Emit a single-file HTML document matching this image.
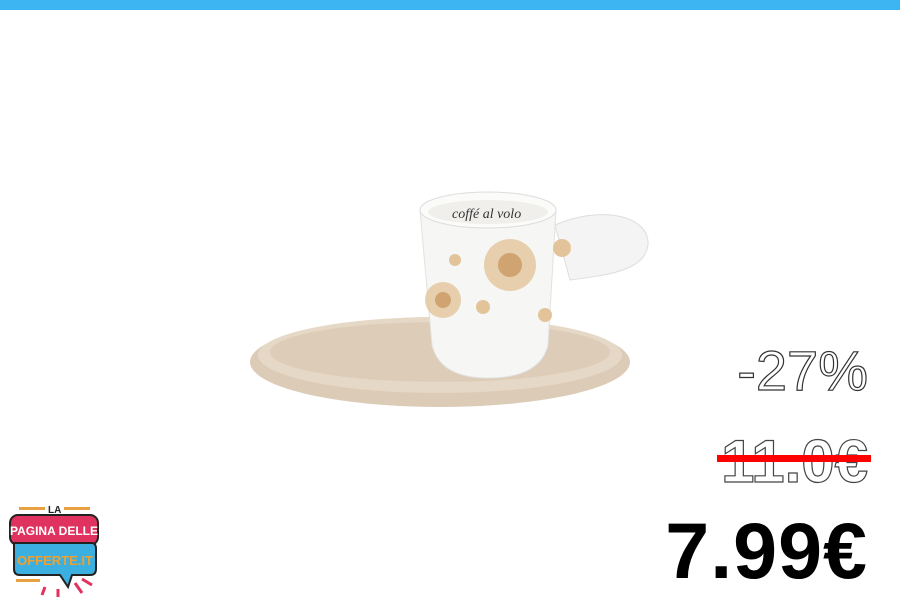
<!DOCTYPE html>
<html><head><meta charset="utf-8"><style>
body{margin:0;width:900px;height:600px;background:#fff;position:relative;overflow:hidden;font-family:"Liberation Sans",sans-serif}
.t{position:absolute;right:32px;white-space:nowrap;line-height:1}
</style></head><body>
<div style="position:absolute;left:0;top:0;width:900px;height:10px;background:#3db5f3"></div>
<svg style="position:absolute;left:0;top:0" width="900" height="600">
<ellipse cx="440" cy="362" rx="190" ry="45" fill="#dccbb6"/>
<ellipse cx="440" cy="355" rx="182" ry="38" fill="#e6d8c6"/>
<ellipse cx="440" cy="352" rx="170" ry="30" fill="#ddcdb8"/>
<path d="M555 225 C600 205 650 215 648 245 C645 270 610 275 570 280 Z" fill="#f4f4f4" stroke="#ddd"/>
<path d="M420 210 L556 210 L548 345 Q540 378 488 378 Q440 378 432 345 Z" fill="#f6f6f4" stroke="#e2e2e0"/>
<ellipse cx="488" cy="210" rx="68" ry="18" fill="#fbfbfa" stroke="#ddd"/>
<ellipse cx="488" cy="212" rx="60" ry="12" fill="#f0efec"/>
<text x="452" y="218" font-family="Liberation Serif" font-style="italic" font-size="14" fill="#333">coffé al volo</text>
<circle cx="510" cy="265" r="26" fill="#e3c49a" opacity=".8"/><circle cx="510" cy="265" r="12" fill="#cfa470"/>
<circle cx="443" cy="300" r="18" fill="#e3c49a" opacity=".8"/><circle cx="443" cy="300" r="8" fill="#cfa470"/>
<circle cx="562" cy="248" r="9" fill="#e3c49a"/><circle cx="483" cy="307" r="7" fill="#e3c49a"/><circle cx="545" cy="315" r="7" fill="#e3c49a"/><circle cx="455" cy="260" r="6" fill="#e3c49a"/>
</svg>
<div class="t" style="top:343px;font-size:56px;color:#fff;-webkit-text-stroke:1.2px #333">-27%</div>
<div class="t" style="top:432px;font-size:60px;font-weight:bold;color:#fff;-webkit-text-stroke:1.2px #444">11.0€</div>
<div style="position:absolute;left:717px;top:455px;width:154px;height:7px;background:#f00"></div>
<div class="t" style="top:511px;font-size:79px;font-weight:bold;color:#000;letter-spacing:1px">7.99€</div>
<svg style="position:absolute;left:0;top:495px" width="110" height="105">
<rect x="19" y="12" width="26" height="3" fill="#e8a040"/><rect x="64" y="12" width="26" height="3" fill="#e8a040"/>
<text x="48" y="18" font-size="10" font-weight="bold" fill="#222">LA</text>
<rect x="10" y="20" width="88" height="30" rx="8" fill="#e0325e" stroke="#222" stroke-width="2"/>
<text x="54" y="40" font-size="12" font-weight="bold" fill="#fff" text-anchor="middle">PAGINA DELLE</text>
<path d="M14 48 H92 Q96 48 96 54 V74 Q96 80 90 80 H72 L68 92 L60 80 H20 Q14 80 14 74 Z" fill="#3bb0e0" stroke="#222" stroke-width="2"/>
<text x="55" y="70" font-size="13" font-weight="bold" fill="#f0a030" text-anchor="middle">OFFERTE.IT</text>
<rect x="16" y="84" width="24" height="3" fill="#e8a040"/>
<path d="M75 88 L82 98 M82 84 L92 90 M45 92 L42 100 M58 94 L58 102" stroke="#e0325e" stroke-width="3"/>
</svg>
</body></html>
